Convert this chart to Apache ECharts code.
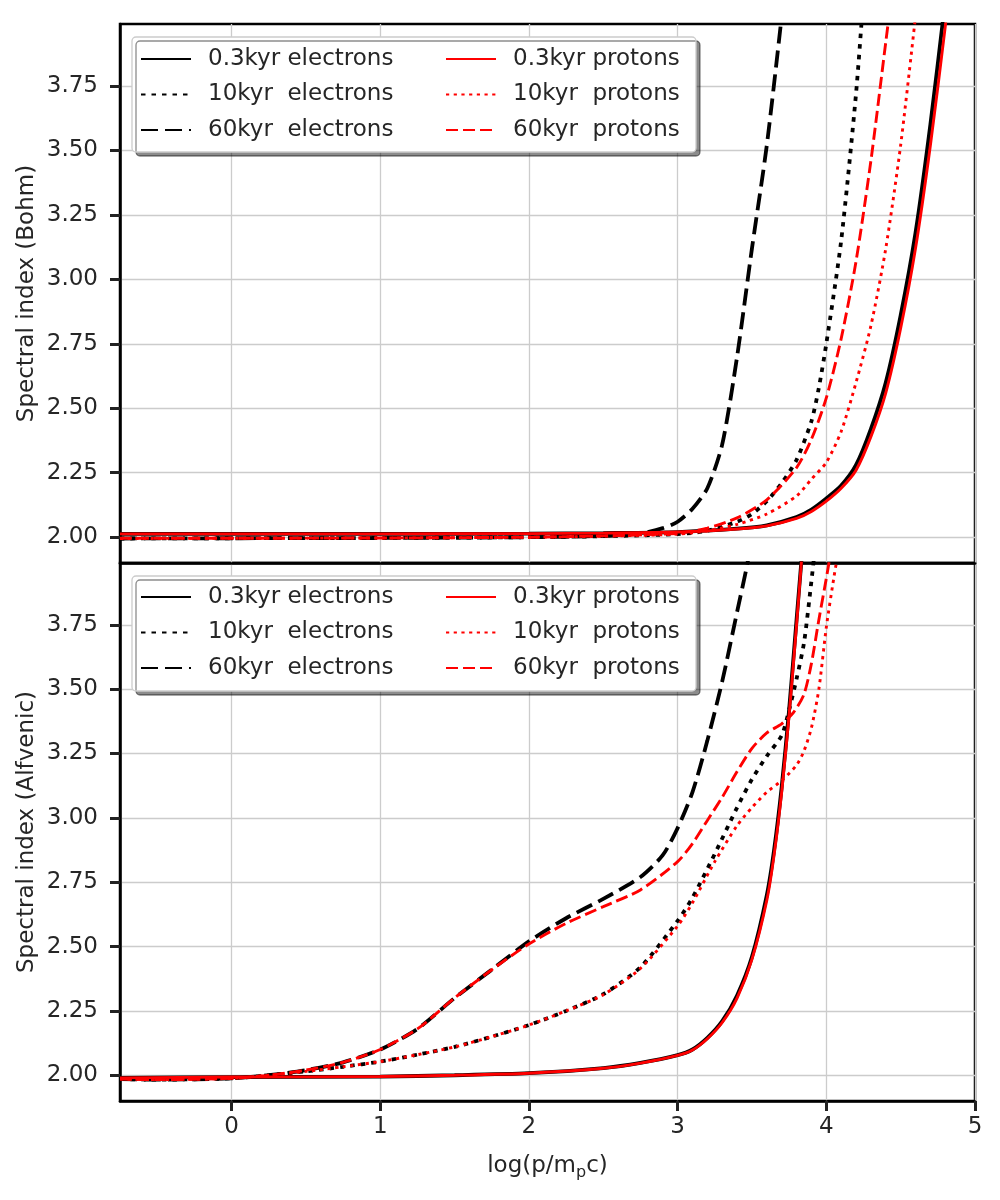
<!DOCTYPE html>
<html>
<head>
<meta charset="utf-8">
<script src="https://cdn.jsdelivr.net/npm/echarts@6/dist/echarts.min.js"></script>
<style>
  html, body { margin: 0; padding: 0; background: #fff; }
  #main { width: 1000px; height: 1200px; }
</style>
</head>
<body>
<div id="main"></div>
<script>
// tick positions
var xTicks = [0, 1, 2, 3, 4, 5];
var yTicks = [2.00, 2.25, 2.50, 2.75, 3.00, 3.25, 3.50, 3.75];

// series names (legend order)
var electronNames = ['0.3kyr electrons', '10kyr  electrons', '60kyr  electrons'];
var protonNames = ['0.3kyr protons', '10kyr  protons', '60kyr  protons'];

// top panel: Bohm diffusion, [log(p/mpc), spectral index]
var bohmE03 = [[-0.75, 2.013], [0, 2.013], [1, 2.013], [2, 2.014], [2.5, 2.016], [3, 2.02], [3.4, 2.033], [3.6, 2.046], [3.8, 2.078], [3.9, 2.107], [4.0, 2.15], [4.1, 2.2], [4.2, 2.28], [4.3, 2.42], [4.4, 2.6], [4.5, 2.86], [4.6, 3.18], [4.7, 3.6], [4.8, 4.08]];
var bohmE10 = [[-0.75, 1.995], [0, 1.996], [1, 1.997], [2, 2.0], [2.5, 2.004], [3, 2.012], [3.2, 2.025], [3.4, 2.06], [3.5, 2.09], [3.6, 2.14], [3.7, 2.21], [3.8, 2.3], [3.9, 2.45], [3.95, 2.58], [4.0, 2.75], [4.1, 3.15], [4.2, 3.72], [4.25, 4.1]];
var bohmE60 = [[-0.75, 1.995], [0, 1.996], [1, 1.997], [2, 2.0], [2.5, 2.005], [2.75, 2.015], [2.9, 2.035], [3.0, 2.06], [3.1, 2.11], [3.2, 2.19], [3.3, 2.36], [3.4, 2.7], [3.5, 3.12], [3.6, 3.52], [3.7, 4.02]];
var bohmP03 = [[-0.75, 2.013], [0, 2.013], [1, 2.013], [2, 2.014], [2.5, 2.016], [3, 2.02], [3.4, 2.032], [3.6, 2.044], [3.8, 2.073], [3.9, 2.1], [4.0, 2.14], [4.1, 2.19], [4.2, 2.26], [4.3, 2.39], [4.4, 2.56], [4.5, 2.81], [4.6, 3.12], [4.7, 3.52], [4.8, 3.98], [4.85, 4.25]];
var bohmP10 = [[-0.75, 1.995], [0, 1.996], [1, 1.997], [2, 2.0], [2.5, 2.004], [3, 2.012], [3.2, 2.025], [3.4, 2.05], [3.6, 2.09], [3.8, 2.16], [3.9, 2.225], [4.0, 2.29], [4.1, 2.41], [4.2, 2.6], [4.3, 2.82], [4.4, 3.12], [4.5, 3.52], [4.6, 4.02]];
var bohmP60 = [[-0.75, 1.996], [0, 1.996], [1, 1.997], [2, 2.0], [2.5, 2.005], [2.8, 2.01], [3, 2.015], [3.2, 2.035], [3.4, 2.075], [3.6, 2.145], [3.8, 2.27], [3.9, 2.38], [4.0, 2.54], [4.1, 2.77], [4.2, 3.07], [4.3, 3.46], [4.4, 3.92], [4.45, 4.15]];

// bottom panel: Alfvenic diffusion
var alfE03 = [[-0.75, 1.99], [0, 1.993], [1, 1.995], [1.5, 2.0], [2, 2.008], [2.5, 2.028], [2.75, 2.048], [3, 2.078], [3.1, 2.1], [3.2, 2.145], [3.3, 2.21], [3.4, 2.31], [3.5, 2.46], [3.6, 2.7], [3.65, 2.88], [3.7, 3.12], [3.75, 3.42], [3.8, 3.77], [3.84, 4.05]];
var alfE10 = [[-0.75, 1.985], [-0.5, 1.983], [0, 1.988], [0.25, 2.0], [0.5, 2.015], [0.75, 2.033], [1, 2.053], [1.25, 2.08], [1.5, 2.11], [1.75, 2.15], [2, 2.195], [2.25, 2.25], [2.5, 2.315], [2.75, 2.42], [3.0, 2.6], [3.1, 2.69], [3.25, 2.86], [3.4, 3.04], [3.5, 3.15], [3.6, 3.24], [3.7, 3.32], [3.75, 3.42], [3.8, 3.54], [3.85, 3.68], [3.9, 3.92], [3.93, 4.08]];
var alfE60 = [[-0.75, 1.985], [-0.5, 1.983], [0, 1.988], [0.25, 2.0], [0.5, 2.02], [0.75, 2.05], [1, 2.1], [1.25, 2.18], [1.5, 2.3], [1.75, 2.41], [2, 2.52], [2.25, 2.61], [2.5, 2.685], [2.75, 2.77], [2.9, 2.855], [3.0, 2.96], [3.1, 3.1], [3.2, 3.3], [3.3, 3.53], [3.4, 3.8], [3.47, 3.99], [3.5, 4.1]];
var alfP03 = [[-0.75, 1.99], [0, 1.993], [1, 1.995], [1.5, 2.0], [2, 2.008], [2.5, 2.027], [2.75, 2.047], [3, 2.077], [3.1, 2.098], [3.2, 2.142], [3.3, 2.205], [3.4, 2.3], [3.5, 2.45], [3.6, 2.68], [3.65, 2.86], [3.7, 3.1], [3.75, 3.4], [3.8, 3.75], [3.84, 4.05]];
var alfP10 = [[-0.75, 1.985], [-0.5, 1.983], [0, 1.988], [0.25, 2.0], [0.5, 2.015], [0.75, 2.033], [1, 2.053], [1.25, 2.08], [1.5, 2.11], [1.75, 2.15], [2, 2.195], [2.25, 2.25], [2.5, 2.313], [2.75, 2.415], [3.0, 2.58], [3.1, 2.67], [3.25, 2.83], [3.4, 2.97], [3.5, 3.04], [3.6, 3.1], [3.7, 3.145], [3.8, 3.205], [3.85, 3.26], [3.9, 3.35], [3.95, 3.5], [4.0, 3.74], [4.05, 3.93], [4.1, 4.1]];
var alfP60 = [[-0.75, 1.985], [-0.5, 1.983], [0, 1.988], [0.25, 2.0], [0.5, 2.02], [0.75, 2.05], [1, 2.1], [1.25, 2.18], [1.5, 2.3], [1.75, 2.41], [2, 2.51], [2.25, 2.59], [2.5, 2.655], [2.75, 2.72], [3.0, 2.83], [3.1, 2.9], [3.2, 2.99], [3.3, 3.08], [3.4, 3.18], [3.5, 3.27], [3.6, 3.33], [3.7, 3.365], [3.78, 3.41], [3.85, 3.48], [3.9, 3.6], [3.95, 3.77], [4.0, 3.93], [4.05, 4.1]];

(function () {
  var myChart = echarts.init(document.getElementById('main'));
  var font = 'DejaVu Sans';
  var ink = '#262626';
  var gridColor = '#cccccc';

  // 线型：黑线粗一点，红线细一点
  var styles = {
    e: [
      { color: '#000', width: 3.8, type: 'solid' },
      { color: '#000', width: 3.8, type: [4.5, 6] },
      { color: '#000', width: 3.8, type: [17, 7] }
    ],
    p: [
      { color: '#ff0000', width: 2.9, type: 'solid' },
      { color: '#ff0000', width: 2.9, type: [3.2, 4.5] },
      { color: '#ff0000', width: 2.9, type: [12, 5] }
    ]
  };

  function line(name, data, idx, st) {
    return {
      name: name,
      type: 'line',
      xAxisIndex: idx,
      yAxisIndex: idx,
      data: data,
      symbol: 'none',
      showSymbol: false,
      smooth: 0.25,
      silent: true,
      lineStyle: { color: st.color, width: st.width, type: st.type },
      itemStyle: { color: st.color }
    };
  }

  function xAxisFor(idx, showLabels) {
    return {
      type: 'value',
      gridIndex: idx,
      position: 'bottom',
      min: -0.75,
      max: 5,
      axisLine: { show: true, onZero: false, lineStyle: { color: '#000', width: 2.5 } },
      axisTick: { show: showLabels, inside: false, customValues: xTicks, length: 10, lineStyle: { color: '#222', width: 3 } },
      axisLabel: { show: showLabels, customValues: xTicks, margin: 15, color: ink, fontFamily: font, fontSize: 23 },
      splitLine: { show: true, lineStyle: { color: gridColor, width: 1.3 } },
      name: showLabels ? '{n|log(p/m}{s|p}{n|c)}' : '',
      nameLocation: 'middle',
      nameGap: 50,
      nameTextStyle: {
        rich: {
          n: { fontFamily: font, fontSize: 23, color: ink, lineHeight: 30 },
          s: { fontFamily: font, fontSize: 16, color: ink, lineHeight: 16, verticalAlign: 'bottom' }
        }
      }
    };
  }

  function yAxisFor(idx, name) {
    return {
      type: 'value',
      gridIndex: idx,
      position: 'left',
      min: 1.9,
      max: 3.99,
      axisLine: { show: true, onZero: false, lineStyle: { color: '#000', width: 2.5 } },
      axisTick: { show: true, inside: false, customValues: yTicks, length: 10, lineStyle: { color: '#222', width: 3 } },
      axisLabel: {
        customValues: yTicks, margin: 22, color: ink, fontFamily: font, fontSize: 23,
        formatter: function (v) { return v.toFixed(2); }
      },
      splitLine: { show: true, lineStyle: { color: gridColor, width: 1.3 } },
      name: name,
      nameLocation: 'middle',
      nameMoveOverlap: false,
      nameGap: 81,
      nameTextStyle: { fontFamily: font, fontSize: 23, color: ink }
    };
  }

  function legendFor(names, left, top) {
    return {
      data: names,
      orient: 'vertical',
      left: left,
      top: top,
      padding: 0,
      itemGap: 9.5,
      itemWidth: 50,
      itemHeight: 14,
      selectedMode: false,
      itemStyle: { opacity: 0 },
      textStyle: { fontFamily: font, fontSize: 23, color: ink, lineHeight: 26, padding: [0, 0, 0, 12] }
    };
  }

  function frame(y) {
    return {
      type: 'rect',
      z: 3,
      silent: true,
      shape: { x: 132, y: y, width: 564, height: 115, r: 4 },
      style: {
        fill: '#fff', stroke: '#cccccc', lineWidth: 1.3,
        shadowColor: 'rgba(0,0,0,0.45)', shadowOffsetX: 4, shadowOffsetY: 4, shadowBlur: 0
      }
    };
  }

  var series = [];
  [[bohmE03, bohmE10, bohmE60, bohmP03, bohmP10, bohmP60], [alfE03, alfE10, alfE60, alfP03, alfP10, alfP60]].forEach(function (set, idx) {
    for (var i = 0; i < 3; i++) series.push(line(electronNames[i], set[i], idx, styles.e[i]));
    for (var j = 0; j < 3; j++) series.push(line(protonNames[j], set[j + 3], idx, styles.p[j]));
  });

  var option = {
    animation: false,
    backgroundColor: '#fff',
    grid: [
      { left: 120, right: 25, top: 24, height: 539, show: true, borderColor: '#000', borderWidth: 2.5, containLabel: false },
      { left: 120, right: 25, top: 563, height: 538, show: true, borderColor: '#000', borderWidth: 2.5, containLabel: false }
    ],
    xAxis: [xAxisFor(0, false), xAxisFor(1, true)],
    yAxis: [yAxisFor(0, 'Spectral index (Bohm)'), yAxisFor(1, 'Spectral index (Alfvenic)')],
    legend: [
      legendFor(electronNames, 140, 46),
      legendFor(protonNames, 445, 46),
      legendFor(electronNames, 140, 584),
      legendFor(protonNames, 445, 584)
    ],
    graphic: [frame(37), frame(576)],
    series: series
  };

  myChart.setOption(option);
  window.addEventListener('resize', function () {
    myChart.resize();
  });
})();
</script>
</body>
</html>
